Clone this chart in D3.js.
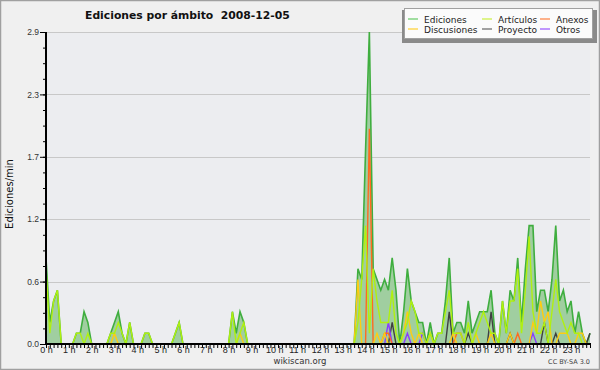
<!DOCTYPE html>
<html><head><meta charset="utf-8">
<script src="https://cdn.jsdelivr.net/npm/d3@7"></script>
<style>html,body{margin:0;padding:0;background:#f0f0f0}svg{display:block}</style>
</head><body><svg id="c" width="600" height="370"></svg>
<script>
// ---- data (10-minute samples, edits per minute) ----
const hours = ["0 h","1 h","2 h","3 h","4 h","5 h","6 h","7 h","8 h","9 h","10 h","11 h",
               "12 h","13 h","14 h","15 h","16 h","17 h","18 h","19 h","20 h","21 h","22 h","23 h"];
const yTickLabels = ["0.0","0.6","1.2","1.7","2.3","2.9"];
const yMax = 2.9;
const seriesNames = ["Ediciones","Artículos","Anexos","Discusiones","Proyecto","Otros"];

const ediciones = [
 0.8,0.2,0.4,0.5,0,0, 0,0,0.1,0.1,0.3,0.2,
 0,0,0,0,0,0.1, 0.2,0.3,0.1,0,0.2,0,
 0,0,0.1,0.1,0,0, 0,0,0,0,0.1,0.2,
 0,0,0,0,0,0, 0,0,0,0,0,0,
 0,0.3,0.1,0.3,0.2,0, 0,0,0,0,0,0,
 0,0,0,0,0,0, 0,0,0,0,0,0,
 0,0,0,0,0,0, 0,0,0,0,0.7,0.6,
 1.8,2.9,0.7,0.6,0.5,0.6, 0.5,0.8,0.5,0,0.3,0.7,
 0.4,0.3,0.2,0.2,0,0.2, 0,0.1,0.1,0.4,0.8,0.1,
 0.2,0.2,0.1,0.4,0.1,0.2, 0.3,0.3,0.3,0.5,0.1,0,
 0.4,0.1,0.5,0.4,0.8,0.2, 0.7,1.1,1.1,0.3,0.5,0.5,
 0.3,0.6,1.1,0.4,0.5,0.3, 0.4,0.1,0.3,0.1,0,0.1
];
const articulos = [
 0.7,0.1,0.4,0.5,0,0, 0,0,0.1,0.1,0,0.1,
 0,0,0,0,0,0.1, 0.1,0.2,0.1,0,0.2,0,
 0,0,0.1,0.1,0,0, 0,0,0,0,0.1,0.2,
 0,0,0,0,0,0, 0,0,0,0,0,0,
 0,0.3,0,0.1,0.2,0, 0,0,0,0,0,0,
 0,0,0,0,0,0, 0,0,0,0,0,0,
 0,0,0,0,0,0, 0,0,0,0,0.2,0.6,
 1.1,0.1,0.7,0.4,0.2,0.2, 0.2,0.5,0.1,0,0.1,0.2,
 0.4,0.3,0.1,0.1,0,0.1, 0,0.1,0.1,0.3,0.5,0.1,
 0.1,0.1,0,0.2,0,0.1, 0.2,0.3,0.2,0.1,0.1,0,
 0.4,0.1,0.4,0.4,0.7,0.1, 0.5,1.0,0.3,0.1,0.1,0.2,
 0,0.3,0.6,0.3,0.2,0.1, 0.2,0.1,0.1,0,0,0
];
const anexos = [
 0,0,0,0,0,0, 0,0,0,0,0,0,
 0,0,0,0,0,0, 0,0,0,0,0,0,
 0,0,0,0,0,0, 0,0,0,0,0,0,
 0,0,0,0,0,0, 0,0,0,0,0,0,
 0,0,0,0,0,0, 0,0,0,0,0,0,
 0,0,0,0,0,0, 0,0,0,0,0,0,
 0,0,0,0,0,0, 0,0,0,0,0,0,
 0,2.0,0,0,0,0.1, 0.1,0,0,0,0,0,
 0,0,0,0,0,0, 0,0,0,0,0,0,
 0.1,0.1,0,0,0,0, 0,0,0,0,0,0,
 0,0,0,0,0.1,0, 0,0,0,0,0,0,
 0,0,0,0,0,0, 0,0,0,0,0,0
];
const discusiones = [
 0,0,0,0,0,0, 0,0,0,0,0,0,
 0,0,0,0,0,0, 0.1,0,0,0,0,0,
 0,0,0,0,0,0, 0,0,0,0,0,0,
 0,0,0,0,0,0, 0,0,0,0,0,0,
 0,0,0,0.1,0,0, 0,0,0,0,0,0,
 0,0,0,0,0,0, 0,0,0,0,0,0,
 0,0,0,0,0,0, 0,0,0,0,0.6,0,
 0,0,0,0.1,0,0.1, 0,0,0,0,0.1,0.3,
 0.1,0,0.1,0,0,0.1, 0,0,0,0,0,0.1,
 0,0,0,0,0,0.1, 0,0,0,0.1,0,0,
 0,0,0.1,0,0,0, 0,0,0.2,0.1,0.4,0.2,
 0.3,0,0,0.1,0.1,0.1, 0,0,0.1,0.1,0,0
];
const proyecto = [
 0,0,0,0,0,0, 0,0,0,0,0,0,
 0,0,0,0,0,0, 0,0,0,0,0,0,
 0,0,0,0,0,0, 0,0,0,0,0,0,
 0,0,0,0,0,0, 0,0,0,0,0,0,
 0,0,0,0,0,0, 0,0,0,0,0,0,
 0,0,0,0,0,0, 0,0,0,0,0,0,
 0,0,0,0,0,0, 0,0,0,0,0,0,
 0,0,0,0,0,0, 0,0.2,0,0,0,0,
 0,0,0,0,0,0, 0,0,0,0,0.3,0,
 0,0,0,0.1,0,0, 0,0,0,0.3,0,0,
 0,0,0.1,0,0,0, 0,0,0,0,0,0.2,
 0,0,0.1,0,0,0, 0,0,0,0,0,0.1
];
const otros = [
 0,0,0,0,0,0, 0,0,0,0,0,0,
 0,0,0,0,0,0, 0,0,0,0,0,0,
 0,0,0,0,0,0, 0,0,0,0,0,0,
 0,0,0,0,0,0, 0,0,0,0,0,0,
 0,0,0,0,0,0, 0,0,0,0,0,0,
 0,0,0,0,0,0, 0,0,0,0,0,0,
 0,0,0,0,0,0, 0,0,0,0,0,0,
 0,0,0,0,0,0, 0.2,0,0,0,0,0.1,
 0,0,0,0.1,0,0, 0,0,0,0,0,0,
 0,0,0,0,0,0, 0,0,0,0,0,0,
 0,0,0,0,0,0, 0,0,0.1,0,0,0,
 0,0,0,0,0,0, 0,0,0,0,0,0
];
const colors = ["#3fae3f","#b0f010","#ff6a20","#ffcc10","#404040","#8a3cff"];
const legendColors = ["#66cc66","#ccf040","#ff8040","#ffd030","#666666","#9955ff"];

// ---- drawing ----
const svg = d3.select("#c");
svg.append("rect").attr("x",0.5).attr("y",0.5).attr("width",599).attr("height",369)
  .attr("fill","#f0f0f0").attr("stroke","#a0a0a0").attr("stroke-width",1.5);

const x = d3.scaleLinear().domain([0, ediciones.length - 1]).range([46, 590]);
const y = d3.scaleLinear().domain([0, yMax]).range([344, 32]);

svg.append("rect").attr("x",x(0)).attr("y",y(yMax)).attr("width",x(143)-x(0)).attr("height",y(0)-y(yMax))
  .attr("fill","#ecedf0");

const majorVals = yTickLabels.map((d,i)=> yMax*i/(yTickLabels.length-1));
const minorVals = d3.range(0, (yTickLabels.length-1)*4+1).map(i=> yMax*i/((yTickLabels.length-1)*4));

svg.append("g").selectAll("line").data(majorVals.slice(1)).join("line")
  .attr("x1",x(0)).attr("x2",x(143)).attr("y1",d=>Math.round(y(d))+0.5).attr("y2",d=>Math.round(y(d))+0.5)
  .attr("stroke","#c8c8c8").attr("stroke-width",1);

const idx = d3.range(ediciones.length);
const area = d3.area().x(i=>x(i)).y0(y(0)).y1(i=>y(ediciones[i]));
const line = arr => d3.line().x(i=>x(i)).y(i=>y(arr[i]));

svg.append("path").datum(idx).attr("d",area).attr("fill","#a0cea0");
svg.append("path").datum(idx).attr("d",line(ediciones)).attr("fill","none")
  .attr("stroke",colors[0]).attr("stroke-width",1.6);
const others = [articulos, anexos, discusiones, proyecto, otros];
const oc = [colors[1], colors[2], colors[3], colors[4], colors[5]];
[3,4,1,2,0].forEach(k=>{
  svg.append("path").datum(idx).attr("d",line(others[k])).attr("fill","none")
    .attr("stroke",oc[k]).attr("stroke-width",1.4);
});

// Y axis
const yAxis = d3.axisLeft(y).tickValues(majorVals).tickSize(6).tickPadding(1)
  .tickFormat((d,i)=>yTickLabels[i]);
const gy = svg.append("g").attr("transform","translate(46,0)").call(yAxis);
gy.select(".domain").remove();
gy.selectAll("text").attr("font-family","Liberation Sans").attr("font-size",8.5).attr("fill","#333");
gy.selectAll("line").attr("stroke","#000");
const yMinor = d3.axisLeft(y).tickValues(minorVals).tickSize(3).tickFormat("");
const gym = svg.append("g").attr("transform","translate(46,0)").call(yMinor);
gym.select(".domain").remove();
gym.selectAll("line").attr("stroke","#000");
svg.append("line").attr("x1",46).attr("x2",46).attr("y1",y(yMax)).attr("y2",y(0)+1)
  .attr("stroke","#000").attr("stroke-width",2);

// X axis
const xMinor = d3.axisBottom(x).tickValues(idx).tickSize(4).tickFormat("");
const gxm = svg.append("g").attr("transform","translate(0,344)").call(xMinor);
gxm.select(".domain").remove();
gxm.selectAll("line").attr("stroke","#000");
const hourIdx = hours.map((h,i)=>i*6);
const xAxis = d3.axisBottom(x).tickValues(hourIdx).tickSize(0).tickPadding(3)
  .tickFormat((d,i)=>hours[i]);
const gx = svg.append("g").attr("transform","translate(0,344)").call(xAxis);
gx.select(".domain").remove();
gx.selectAll("text").attr("font-family","Liberation Sans").attr("font-size",9).attr("fill","#222");
svg.append("line").attr("x1",45).attr("x2",591).attr("y1",344).attr("y2",344)
  .attr("stroke","#000").attr("stroke-width",2);

// Title
svg.append("text").attr("x",85).attr("y",19).attr("font-family","DejaVu Sans").attr("font-weight","bold")
  .attr("font-size",10.8).attr("fill","#111").style("white-space","pre")
  .text("Ediciones por ámbito  2008-12-05");

// Y label
svg.append("text").attr("transform","translate(13,194) rotate(-90)").attr("text-anchor","middle")
  .attr("font-family","DejaVu Sans").attr("font-size",10).attr("fill","#111").text("Ediciones/min");

// footer
svg.append("text").attr("x",300).attr("y",364).attr("text-anchor","middle")
  .attr("font-family","DejaVu Sans").attr("font-size",8.5).attr("fill","#333").text("wikiscan.org");
svg.append("text").attr("x",590).attr("y",364).attr("text-anchor","end")
  .attr("font-family","DejaVu Sans").attr("font-size",6.5).attr("fill","#444").text("CC BY-SA 3.0");

// Legend
const lg = svg.append("g");
lg.append("rect").attr("x",402).attr("y",10).attr("width",195).attr("height",33).attr("fill","#8a8a8a");
lg.append("rect").attr("x",404.5).attr("y",8.5).attr("width",188).attr("height",30)
  .attr("fill","#fbfbfb").attr("stroke","#a0a0a0");
const legItems = [
  {n:0, col:0, row:0},{n:1, col:1, row:0},{n:2, col:2, row:0},
  {n:3, col:0, row:1},{n:4, col:1, row:1},{n:5, col:2, row:1}];
const colX = [408, 482, 540];
legItems.forEach(it=>{
  const yy = 19 + it.row*10;
  lg.append("line").attr("x1",colX[it.col]).attr("x2",colX[it.col]+10).attr("y1",yy).attr("y2",yy)
    .attr("stroke",legendColors[it.n]).attr("stroke-width",1.2);
  lg.append("text").attr("x",colX[it.col]+16).attr("y",yy+3.5).attr("font-family","DejaVu Sans")
    .attr("font-size",9).attr("fill","#222").text(seriesNames[it.n]);
});
</script></body></html>
